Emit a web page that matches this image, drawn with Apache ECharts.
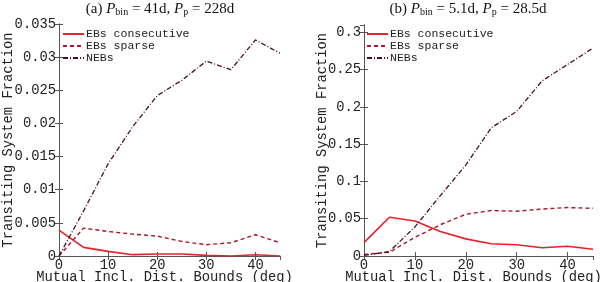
<!DOCTYPE html>
<html><head><meta charset="utf-8">
<script src="https://cdn.jsdelivr.net/npm/echarts@6/dist/echarts.min.js"></script>
<style>html,body{margin:0;padding:0;background:#fff}#c{width:600px;height:282px}</style>
</head><body><div id="c"></div>
<script>
const xValues = [0, 5, 10, 15, 20, 25, 30, 35, 40, 45];
const seriesNames = ['EBs consecutive', 'EBs sparse', 'NEBs'];
// Panel (a)
const aConsecutive = [0.0039, 0.0013, 0.0007, 0.0002, 0.0003, 0.0003, 0.0001, 0.0000, 0.0002, 0.0000];
const aSparse      = [0.0000, 0.0042, 0.0037, 0.0033, 0.0030, 0.0022, 0.0017, 0.0020, 0.0032, 0.0020];
const aNEBs        = [0.0000, 0.0068, 0.0139, 0.0195, 0.0242, 0.0265, 0.0294, 0.0281, 0.0326, 0.0306];
// Panel (b)
const bConsecutive = [0.018, 0.052, 0.047, 0.033, 0.023, 0.0165, 0.015, 0.011, 0.013, 0.009];
const bSparse      = [0.002, 0.005, 0.025, 0.042, 0.056, 0.061, 0.060, 0.063, 0.065, 0.064];
const bNEBs        = [0.001, 0.006, 0.039, 0.081, 0.122, 0.172, 0.194, 0.235, 0.257, 0.279];
const aYTicks = {min: 0, max: 0.035, interval: 0.005};
const bYTicks = {min: 0, max: 0.31, interval: 0.05};
const xTicks = {min: 0, max: 45, interval: 10};

const pairs = arr => xValues.map((x, i) => [x, arr[i]]);
const mono = 'Liberation Mono';
const frame = '#555';
const fs = 13.8;
const colors = ['#e8202a', '#a8172c', '#4a0f1e'];
const styles = [
  {type: 'solid', width: 1.6},
  {type: [4, 3], width: 1.4},
  {type: [5, 2, 1, 2], width: 1.3}
];
const isMult = t => Math.abs(t.max / t.interval - Math.round(t.max / t.interval)) < 1e-6;

function xAxes(grid) {
  return [
    {type: 'value', gridIndex: grid, position: 'bottom', min: xTicks.min, max: xTicks.max, interval: xTicks.interval,
     name: 'Mutual Incl. Dist. Bounds (deg)', nameLocation: 'middle', nameGap: 14, nameMoveOverlap: false,
     nameTextStyle: {fontFamily: mono, fontSize: fs, color: '#222', padding: [0, 10, 0, 0]},
     axisLine: {show: true, lineStyle: {color: frame, width: 1}},
     axisTick: {show: true, inside: true, length: 4, lineStyle: {color: frame}},
     axisLabel: {fontFamily: mono, fontSize: fs, color: '#222', margin: 2, showMaxLabel: isMult(xTicks)},
     splitLine: {show: false}},
    {type: 'value', gridIndex: grid, position: 'top', min: xTicks.min, max: xTicks.max, interval: xTicks.interval,
     axisLine: {show: true, lineStyle: {color: frame, width: 1}},
     axisTick: {show: true, inside: true, length: 4, lineStyle: {color: frame}},
     axisLabel: {show: false}, splitLine: {show: false}}
  ];
}
function yAxes(grid, t, gap) {
  return [
    {type: 'value', gridIndex: grid, position: 'left', min: t.min, max: t.max, interval: t.interval,
     name: 'Transiting System Fraction', nameLocation: 'middle', nameGap: gap, nameMoveOverlap: false,
     nameTextStyle: {fontFamily: mono, fontSize: fs, color: '#222'},
     axisLine: {show: true, lineStyle: {color: frame, width: 1}},
     axisTick: {show: true, inside: true, length: 4, lineStyle: {color: frame}},
     axisLabel: {fontFamily: mono, fontSize: fs, color: '#222', margin: 3, showMaxLabel: isMult(t)},
     splitLine: {show: false}},
    {type: 'value', gridIndex: grid, position: 'right', min: t.min, max: t.max, interval: t.interval,
     axisLine: {show: true, lineStyle: {color: frame, width: 1}},
     axisTick: {show: true, inside: true, length: 4, lineStyle: {color: frame}},
     axisLabel: {show: false}, splitLine: {show: false}}
  ];
}
function mkSeries(grid, xi, yi, datas) {
  return datas.map((d, k) => ({
    type: 'line', name: seriesNames[k], xAxisIndex: xi, yAxisIndex: yi,
    data: pairs(d), symbol: 'none', showSymbol: false, animation: false,
    lineStyle: Object.assign({color: colors[k]}, styles[k]), itemStyle: {color: colors[k]}
  }));
}
const titleRich = {
  n: {fontFamily: 'Liberation Serif', fontSize: 15, fontWeight: 'normal', color: '#111'},
  i: {fontFamily: 'Liberation Serif', fontSize: 15, fontStyle: 'italic', fontWeight: 'normal', color: '#111'},
  s: {fontFamily: 'Liberation Serif', fontSize: 10, fontWeight: 'normal', color: '#111', verticalAlign: 'bottom', padding: [5, 0, 0, 0]}
};
const legendBase = {
  orient: 'vertical', itemGap: 0, itemWidth: 21, itemHeight: 11, padding: 0,
  itemStyle: {opacity: 0},
  textStyle: {fontFamily: mono, fontSize: 11.5, color: '#222', padding: [0, 0, 0, -3], lineHeight: 11},
  data: seriesNames, selectedMode: false
};
const chart = echarts.init(document.getElementById('c'), null, {renderer: 'canvas'});
chart.setOption({
  animation: false,
  title: [
    {left: 155, top: -3, textAlign: 'center', text: '{n|(a) }{i|P}{s|bin}{n| = 41d, }{i|P}{s|p}{n| = 228d}', textStyle: {fontWeight: 'normal', rich: titleRich}},
    {left: 463, top: -3, textAlign: 'center', text: '{n|(b) }{i|P}{s|bin}{n| = 5.1d, }{i|P}{s|p}{n| = 28.5d}', textStyle: {fontWeight: 'normal', rich: titleRich}}
  ],
  legend: [
    Object.assign({left: 62, top: 28}, legendBase),
    Object.assign({left: 366, top: 28}, legendBase)
  ],
  grid: [
    {left: 59, right: 320, top: 24, bottom: 26, outerBoundsMode: 'none', containLabel: false},
    {left: 364, right: 7, top: 25, bottom: 26, outerBoundsMode: 'none', containLabel: false}
  ],
  xAxis: xAxes(0).concat(xAxes(1)),
  yAxis: yAxes(0, aYTicks, 44).concat(yAxes(1, bYTicks, 35)),
  series: mkSeries(0, 0, 0, [aConsecutive, aSparse, aNEBs]).concat(mkSeries(1, 2, 2, [bConsecutive, bSparse, bNEBs]))
});
</script></body></html>
